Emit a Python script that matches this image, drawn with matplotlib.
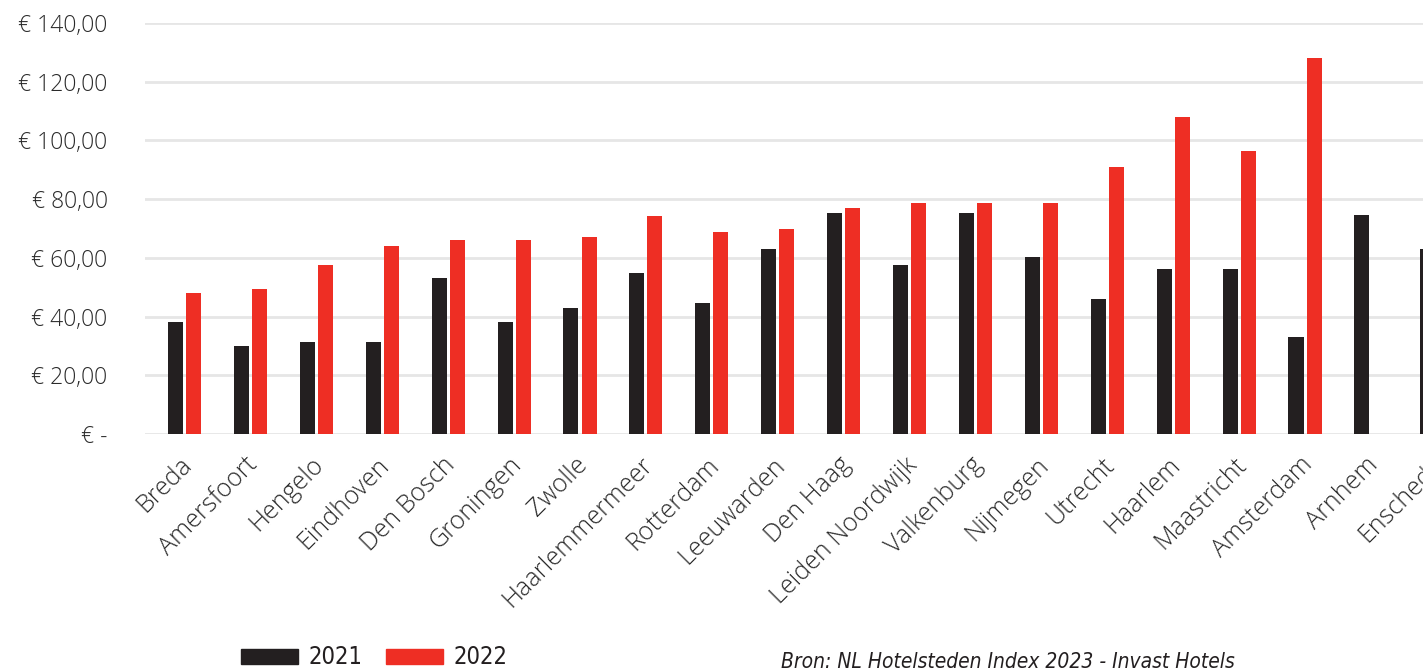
import numpy as np
import matplotlib
matplotlib.use("Agg")
import matplotlib.pyplot as plt
from matplotlib.patches import Patch
from matplotlib.ticker import FuncFormatter
import matplotlib.transforms as mtransforms

cities = ["Breda", "Amersfoort", "Hengelo", "Eindhoven", "Den Bosch", "Groningen",
          "Zwolle", "Haarlemmermeer", "Rotterdam", "Leeuwarden", "Den Haag",
          "Leiden Noordwijk", "Valkenburg", "Nijmegen", "Utrecht", "Haarlem",
          "Maastricht", "Amsterdam", "Arnhem", "Enschede"]
vals_2021 = [38.1, 30.0, 31.3, 31.3, 53.1, 38.1, 42.9, 54.8, 44.6, 63.0,
             75.3, 57.6, 75.3, 60.3, 46.0, 56.2, 56.2, 33.0, 74.6, 63.0]
vals_2022 = [48.0, 49.4, 57.6, 64.0, 66.1, 66.1, 67.1, 74.3, 68.8, 69.8,
             77.0, 78.7, 78.7, 78.7, 90.9, 108.0, 96.4, 128.1, np.nan, np.nan]
yticks = [0, 20, 40, 60, 80, 100, 120, 140]

BLACK = "#231f20"
RED = "#ee2e24"
TXT = "#2a2a2a"
FONT = "Open Sans"

W, H = 1423, 668
fig = plt.figure(figsize=(W / 100, H / 100), dpi=100)
fig.patch.set_facecolor("white")
ax = fig.add_axes([145 / W, 1 - 434 / H, 1 - 145 / W, (434 - 23) / H])

x = np.arange(len(cities))
bw = 0.228
gap = 0.046
ax.bar(x - (bw + gap) / 2, vals_2021, bw, color=BLACK, zorder=3)
ax.bar(x + (bw + gap) / 2, vals_2022, bw, color=RED, zorder=3)

ax.set_xlim(-0.6, 18.79)
ax.set_ylim(0, 140)
ax.set_yticks(yticks)
ax.yaxis.set_major_formatter(FuncFormatter(
    lambda v, p: "€ -" if v == 0 else f"€ {v:.2f}".replace(".", ",")))
ax.grid(axis="y", color="#e6e6e6", linewidth=2, zorder=0)
ax.tick_params(axis="y", length=0, pad=27, labelsize=16.5, labelcolor=TXT)
ax.tick_params(axis="x", length=0)
for lab in ax.get_yticklabels():
    lab.set_fontfamily(FONT)
    lab.set_fontweight("light")
for s in ax.spines.values():
    s.set_visible(False)

# category labels (drawn as text so the clipped last one still shows)
ax.set_xticks([])
trans = mtransforms.blended_transform_factory(ax.transData, ax.transAxes)
for xi, name in zip(x, cities):
    ax.text(xi - 0.08, -0.045, name, transform=trans, rotation=45, ha="right",
            va="top", rotation_mode="anchor", fontsize=18, color=TXT,
            family=FONT, fontweight="light", clip_on=False)

handles = [Patch(color=BLACK, label="2021"), Patch(color=RED, label="2022")]
fig.legend(handles=handles, loc="lower left", bbox_to_anchor=(220 / W, -0.034),
           ncol=2, frameon=False, handlelength=2.4,
           handleheight=0.6, handletextpad=0.45, columnspacing=1.0,
           labelcolor=BLACK, prop={"family": "DejaVu Sans", "stretch": "condensed", "size": 17})

fig.text(781 / W, 1 - 662 / H, "Bron: NL Hotelsteden Index 2023 - Invast Hotels",
         ha="left", va="center", fontsize=15, style="italic", color=BLACK,
         family="DejaVu Sans", stretch="condensed")

fig.savefig("out.png", dpi=100, facecolor=fig.get_facecolor())
